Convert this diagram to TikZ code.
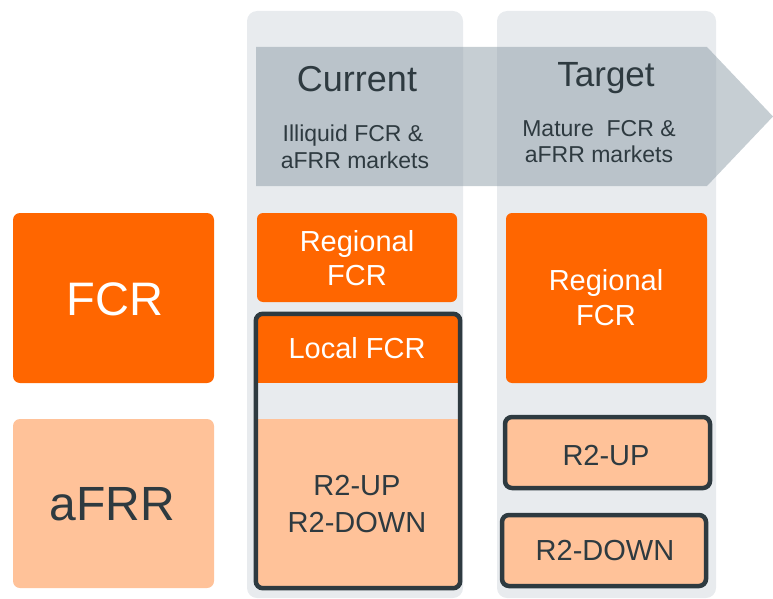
\documentclass[tikz,border=0pt]{standalone}
\usepackage{fontspec}
\setmainfont{Liberation Sans}
\definecolor{orng}{HTML}{FF6600}
\definecolor{lorng}{HTML}{FFC299}
\definecolor{colbg}{HTML}{E8EBEE}
\definecolor{dark}{HTML}{2E3A40}
\definecolor{banner}{HTML}{8D9DA7}
\begin{document}
\begin{tikzpicture}[x=1pt,y=-1pt,
  solid/.style={fill=orng, rounded corners=6pt, inner sep=0pt},
  light/.style={fill=lorng, rounded corners=6pt, inner sep=0pt},
  framed/.style={fill=lorng, draw=dark, line width=4.5pt, rounded corners=7pt, inner sep=0pt},
  wtxt/.style={text=white, anchor=base, inner sep=0pt},
  dtxt/.style={text=dark, anchor=base, inner sep=0pt},
  desc/.style={dtxt, font=\fontsize{23}{26}\selectfont},
  mid/.style={font=\fontsize{29}{34}\selectfont}]
\useasboundingbox (0,0) rectangle (773,599);
% column backgrounds
\fill[colbg, rounded corners=10pt] (247,11) rectangle (463,598);
\fill[colbg, rounded corners=10pt] (497,11) rectangle (716,598);
% banner arrow
\fill[banner, opacity=0.5] (256,47) -- (707,47) -- (773,116.5) -- (707,186) -- (256,186) -- cycle;
\node[dtxt, font=\fontsize{36}{40}\selectfont] (cur) at (357,92) {Current};
\node[dtxt, font=\fontsize{35}{40}\selectfont] (tgt) at (606,87) {Target};
\node[desc] (curd1) at (353,142) {Illiquid FCR \&};
\node[desc] (curd2) at (355,168) {aFRR markets};
\node[desc] (tgtd1) at (599,136) {Mature\ \ FCR \&};
\node[desc] (tgtd2) at (599,162) {aFRR markets};
% left labels
\node[solid, rounded corners=7pt, minimum width=201pt, minimum height=170pt] (fcrbox) at (113.5,298) {};
\node[wtxt, font=\fontsize{47}{50}\selectfont] (fcrt) at (115,315) {FCR};
\node[light, rounded corners=7pt, minimum width=201pt, minimum height=169pt] (afrrbox) at (113.5,503.5) {};
\node[dtxt, font=\fontsize{48}{50}\selectfont] (afrrt) at (112,520) {aFRR};
% column 1
\node[solid, minimum width=200pt, minimum height=89pt] (reg1) at (357,257.5) {};
\node[wtxt, mid] (reg1a) at (357,251) {Regional};
\node[wtxt, mid] (reg1b) at (357,285) {FCR};
\node[light, rounded corners=7pt, minimum width=204pt, minimum height=274pt] (localbox) at (358,451) {};
\begin{scope}
\clip[rounded corners=7pt] (localbox.north west) rectangle (localbox.south east);
\fill[orng] (localbox.north west) rectangle (460,383);
\fill[colbg] (256,383) rectangle (460,419);
\end{scope}
\draw[dark, line width=4.5pt, rounded corners=7pt] (localbox.north west) rectangle (localbox.south east);
\node[wtxt, mid] (localt) at (357,358) {Local FCR};
\node[dtxt, mid] (r2a) at (357,495) {R2-UP};
\node[dtxt, mid] (r2b) at (357,532) {R2-DOWN};
% column 2
\node[solid, minimum width=201pt, minimum height=170pt] (reg2) at (606.5,298) {};
\node[wtxt, mid] (reg2a) at (606,290) {Regional};
\node[wtxt, mid] (reg2b) at (606,325) {FCR};
\node[framed, minimum width=205pt, minimum height=71pt] (upbox) at (607.5,452.5) {};
\node[dtxt, mid] (upt) at (606,465) {R2-UP};
\node[framed, minimum width=204pt, minimum height=71pt] (downbox) at (604,550.5) {};
\node[dtxt, mid] (downt) at (605,560) {R2-DOWN};
\end{tikzpicture}
\end{document}
